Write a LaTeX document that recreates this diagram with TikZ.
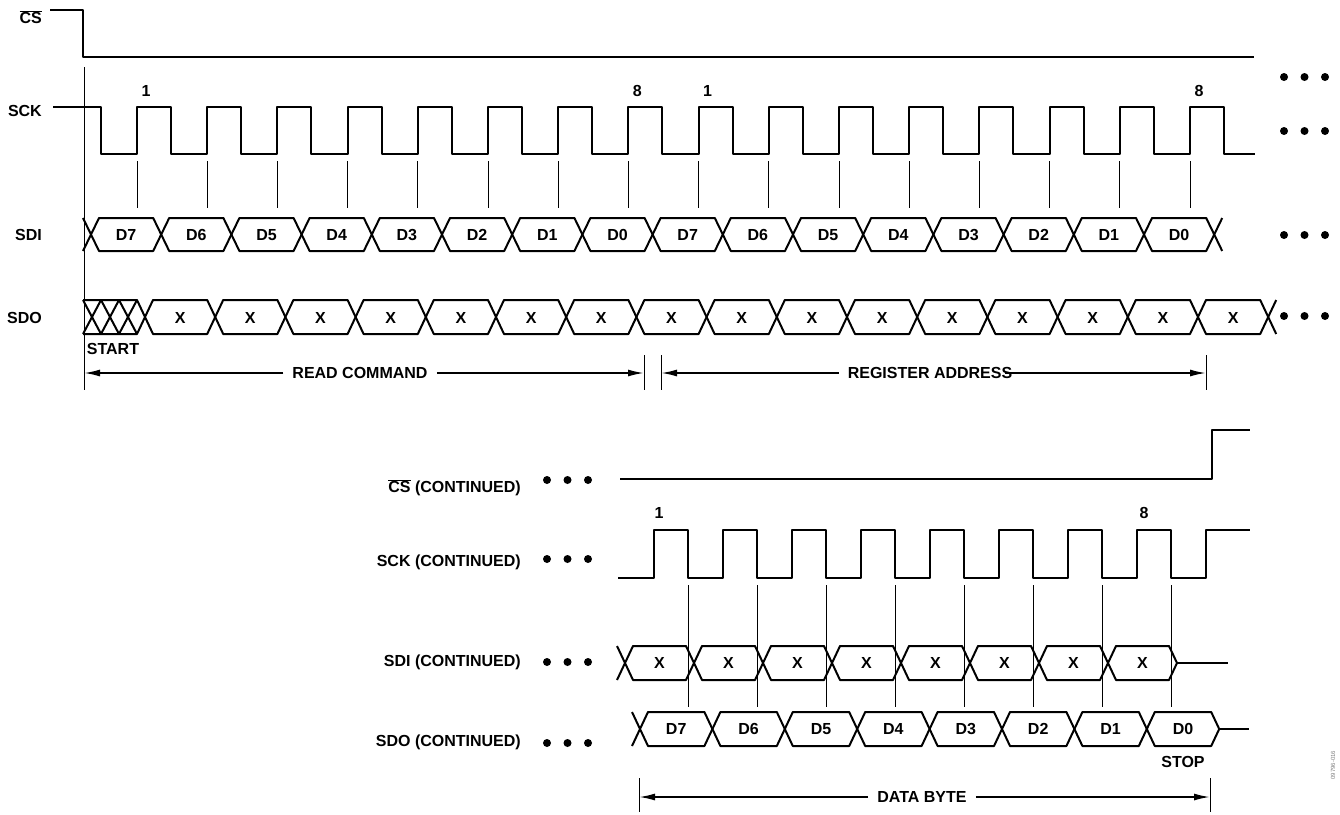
\documentclass[tikz,border=0pt]{standalone}
\usepackage{fontspec}
\setmainfont{Liberation Sans}
\usetikzlibrary{arrows.meta}
\tikzset{
    sig/.style={line width=2pt, line join=round},
    tick/.style={line width=0.9pt},
    bar/.style={line width=1pt},
    lbl/.style={font=\fontsize{16}{19}\selectfont\bfseries, inner sep=0pt},
    dimlbl/.style={lbl, inner xsep=9pt},
    dim/.style={line width=1.7pt, -{Latex[length=16pt,width=7pt]}},
    dots/.pic={
        \foreach \j in {0,1,2}
          \fill ({\j*20.5},0) circle[radius=4pt];
    }
}
\begin{document}
\begin{tikzpicture}[x=1pt,y=-1pt]
    \useasboundingbox (0,0) rectangle (1340,814);
    \pgfmathsetmacro{\per}{70.2}
    \pgfmathsetmacro{\pera}{69}
    \pgfmathsetmacro{\perb}{72.4}
    % Signal names
    \node[lbl,anchor=east] (cs) at (42,17) {$\overline{\hbox{CS}}$};
    \node[lbl,anchor=east] (sck) at (42,111) {SCK};
    \node[lbl,anchor=east] (sdi) at (42,235) {SDI};
    \node[lbl,anchor=east] (sdo) at (42,318) {SDO};
    % Chip select
    \draw[sig] (50,10) -- (83,10) -- (83,57) -- (1254,57);
    % Clock
    \draw[sig] (53,107) -- (101,107) -- (101,154)
      foreach \k in {0,...,15}{ -- ({137+\k*\per},154) -- ({137+\k*\per},107) -- ({171+\k*\per},107) -- ({171+\k*\per},154)}
      -- (1255,154);
    \node[lbl] (one) at (146,91) {1};
    \node[lbl] (eight) at ({146+7*\per},91) {8};
    \node[lbl] (oneb) at ({146+8*\per},91) {1};
    \node[lbl] (eightb) at ({146+15*\per},91) {8};
    \foreach \k in {0,...,15}
      \draw[tick] ({137+\k*\per},161) -- ({137+\k*\per},208);
    \draw[tick] (84,67) -- (84,390);
    % SDI bus
    \draw[sig] (83,218) -- (91,234.5) -- (83,251);
    \foreach \d [count=\k from 0] in {7,6,5,4,3,2,1,0,7,6,5,4,3,2,1,0}{
      \pgfmathsetmacro{\cx}{91+\k*\per}
      \draw[sig] (\cx,234.5) -- ({\cx+8},218) -- ({\cx+\per-8},218) -- ({\cx+\per},234.5) -- ({\cx+\per-8},251) -- ({\cx+8},251) -- cycle;
      \node[lbl] (sdiD\k) at ({\cx+\per/2},235) {D\d};
    }
    \draw[sig] ({91+16*\per+8},218) -- ({91+16*\per},234.5) -- ({91+16*\per+8},251);
    % SDO bus
    \draw[sig] (83,300) -- (137,300) -- (145,317) -- (137,334) -- (83,334);
    \foreach \a in {83,101,119}
      \draw[sig] (\a,300) -- ({\a+18},334) (\a,334) -- ({\a+18},300);
    \foreach \k in {0,...,15}{
      \pgfmathsetmacro{\cx}{145+\k*\per}
      \draw[sig] (\cx,317) -- ({\cx+8},300) -- ({\cx+\per-8},300) -- ({\cx+\per},317) -- ({\cx+\per-8},334) -- ({\cx+8},334) -- cycle;
      \node[lbl] (sdoX\k) at ({\cx+\per/2},318) {X};
    }
    \draw[sig] ({145+16*\per+8},300) -- ({145+16*\per},317) -- ({145+16*\per+8},334);
    \node[lbl] (start) at (113,349) {START};
    % Dots
    \pic (dcs) at (1284,77) {dots};
    \pic (dsck) at (1284,131) {dots};
    \pic (dsdi) at (1284,235) {dots};
    \pic (dsdo) at (1284,316) {dots};
    % Read command and register address
    \draw[bar] (644,355) -- (644,390);
    \draw[bar] (661,355) -- (661,390);
    \draw[bar] (1206,355) -- (1206,390);
    \coordinate (rcL) at (84,373);
    \coordinate (rcR) at (644,373);
    \coordinate (raL) at (661,373);
    \coordinate (raR) at (1206,373);
    \node[dimlbl] (rc) at (360,373) {READ COMMAND};
    \draw[dim] (rc) -- (rcL);
    \draw[dim] (rc) -- (rcR);
    \node[dimlbl] (ra) at (930,373) {REGISTER ADDRESS};
    \draw[dim] (ra) -- (raL);
    \draw[dim] ([xshift=-16pt]ra.east) -- (raR);

    % Continued part
    \node[lbl,anchor=east] (csc) at (521,488) {$\overline{\hbox{CS}}$ (CONTINUED)};
    \node[lbl,anchor=east] (sckc) at (521,562) {SCK (CONTINUED)};
    \node[lbl,anchor=east] (sdic) at (521,662) {SDI (CONTINUED)};
    \node[lbl,anchor=east] (sdoc) at (521,742) {SDO (CONTINUED)};
    \pic (dcsc) at (547,480) {dots};
    \pic (dsckc) at (547,559) {dots};
    \pic (dsdic) at (547,662) {dots};
    \pic (dsdoc) at (547,743) {dots};
    \draw[sig] (620,479) -- (1212,479) -- (1212,430) -- (1250,430);
    \draw[sig] (618,578)
      foreach \k in {0,...,7}{ -- ({654+\k*\pera},578) -- ({654+\k*\pera},530) -- ({688+\k*\pera},530) -- ({688+\k*\pera},578)}
      -- (1206,578) -- (1206,530) -- (1250,530);
    \node[lbl] (onec) at (659,513) {1};
    \node[lbl] (eightc) at (1144,513) {8};
    \foreach \k in {0,...,7}
      \draw[tick] ({688+\k*\pera},585) -- ({688+\k*\pera},707);
    % SDI continued
    \draw[sig] (617,646) -- (625,663) -- (617,680);
    \foreach \k in {0,...,7}{
      \pgfmathsetmacro{\cx}{625+\k*\pera}
      \draw[sig] (\cx,663) -- ({\cx+8},646) -- ({\cx+\pera-8},646) -- ({\cx+\pera},663) -- ({\cx+\pera-8},680) -- ({\cx+8},680) -- cycle;
      \node[lbl] (sdicX\k) at ({\cx+\pera/2},663) {X};
    }
    \draw[sig] ({625+8*\pera},663) -- (1228,663);
    % SDO continued
    \draw[sig] (632,712) -- (640,729) -- (632,746);
    \foreach \d [count=\k from 0] in {7,6,5,4,3,2,1,0}{
      \pgfmathsetmacro{\cx}{640+\k*\perb}
      \draw[sig] (\cx,729) -- ({\cx+8},712) -- ({\cx+\perb-8},712) -- ({\cx+\perb},729) -- ({\cx+\perb-8},746) -- ({\cx+8},746) -- cycle;
      \node[lbl] (sdocD\k) at ({\cx+\perb/2},729) {D\d};
    }
    \draw[sig] ({640+8*\perb},729) -- (1249,729);
    \node[lbl] (stop) at (1183,762) {STOP};
    % Data byte
    \draw[bar] (639,778) -- (639,812);
    \draw[bar] (1210,778) -- (1210,812);
    \coordinate (dbL) at (639,797);
    \coordinate (dbR) at (1210,797);
    \node[dimlbl] (db) at (922,797) {DATA BYTE};
    \draw[dim] (db) -- (dbL);
    \draw[dim] (db) -- (dbR);
    \node[font=\fontsize{6}{7}\selectfont, text=gray, rotate=90, inner sep=0pt] (fig) at (1333,765) {09796-016};
\end{tikzpicture}
\end{document}
